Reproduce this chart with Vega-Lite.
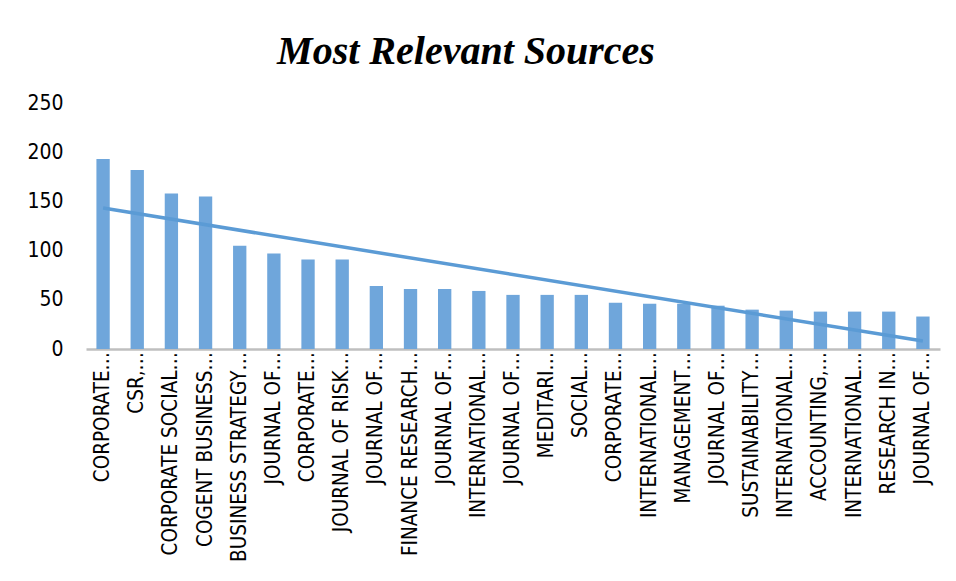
{
  "$schema": "https://vega.github.io/schema/vega-lite/v6.json",
  "autosize": {"type": "none"},
  "padding": {"left": 86, "top": 103, "right": 16, "bottom": 232},
  "width": 854,
  "height": 246,
  "background": "white",
  "config": {"view": {"stroke": null}},
  "title": {
    "text": "Most Relevant Sources",
    "font": "Liberation Serif",
    "fontSize": 40,
    "fontStyle": "italic",
    "fontWeight": "bold",
    "color": "#000000",
    "anchor": "middle",
    "baseline": "alphabetic",
    "dx": -47,
    "dy": 42,
    "offset": 30
  },
  "data": {
    "values": [
      {"rank": 1, "label": "CORPORATE…", "articles": 193},
      {"rank": 2, "label": "CSR,…", "articles": 182},
      {"rank": 3, "label": "CORPORATE SOCIAL…", "articles": 158},
      {"rank": 4, "label": "COGENT BUSINESS…", "articles": 155},
      {"rank": 5, "label": "BUSINESS STRATEGY…", "articles": 105},
      {"rank": 6, "label": "JOURNAL OF…", "articles": 97},
      {"rank": 7, "label": "CORPORATE…", "articles": 91},
      {"rank": 8, "label": "JOURNAL OF RISK…", "articles": 91},
      {"rank": 9, "label": "JOURNAL OF…", "articles": 64},
      {"rank": 10, "label": "FINANCE RESEARCH…", "articles": 61},
      {"rank": 11, "label": "JOURNAL OF…", "articles": 61},
      {"rank": 12, "label": "INTERNATIONAL…", "articles": 59},
      {"rank": 13, "label": "JOURNAL OF…", "articles": 55},
      {"rank": 14, "label": "MEDITARI…", "articles": 55},
      {"rank": 15, "label": "SOCIAL…", "articles": 55},
      {"rank": 16, "label": "CORPORATE…", "articles": 47},
      {"rank": 17, "label": "INTERNATIONAL…", "articles": 46},
      {"rank": 18, "label": "MANAGEMENT…", "articles": 46},
      {"rank": 19, "label": "JOURNAL OF…", "articles": 44},
      {"rank": 20, "label": "SUSTAINABILITY…", "articles": 40},
      {"rank": 21, "label": "INTERNATIONAL…", "articles": 39},
      {"rank": 22, "label": "ACCOUNTING,…", "articles": 38},
      {"rank": 23, "label": "INTERNATIONAL…", "articles": 38},
      {"rank": 24, "label": "RESEARCH IN…", "articles": 38},
      {"rank": 25, "label": "JOURNAL OF…", "articles": 33}
    ]
  },
  "layer": [
    {
      "encoding": {
        "x": {
          "field": "rank",
          "type": "ordinal",
          "scale": {"paddingInner": 0.61, "paddingOuter": 0.305},
          "axis": {
            "labels": false,
            "ticks": false,
            "domain": true,
            "domainColor": "#BFBFBF",
            "domainWidth": 2.5,
            "title": null,
            "grid": false
          }
        },
        "y": {
          "field": "articles",
          "type": "quantitative",
          "scale": {"domain": [0, 250], "nice": false},
          "axis": {
            "values": [0, 50, 100, 150, 200, 250],
            "grid": false,
            "domain": false,
            "ticks": false,
            "labelFont": "DejaVu Sans Condensed",
            "labelFontSize": 21,
            "labelColor": "#000000",
            "labelPadding": 23,
            "title": null
          }
        }
      },
      "layer": [
        {"mark": {"type": "bar", "color": "#6FA6DB"}},
        {
          "mark": {
            "type": "text",
            "angle": 270,
            "align": "right",
            "baseline": "middle",
            "dx": -3,
            "font": "DejaVu Sans Condensed",
            "fontSize": 20.5,
            "color": "#000000"
          },
          "encoding": {
            "y": {"datum": 0, "type": "quantitative"},
            "text": {"field": "label", "type": "nominal"}
          }
        }
      ]
    },
    {
      "transform": [{"regression": "articles", "on": "rank"}],
      "mark": {"type": "line", "color": "#5B9BD5", "strokeWidth": 3.5},
      "encoding": {
        "x": {
          "field": "rank",
          "type": "quantitative",
          "scale": {"domain": [0.5, 25.5], "nice": false, "zero": false},
          "axis": null
        },
        "y": {"field": "articles", "type": "quantitative"}
      }
    }
  ],
  "resolve": {"scale": {"x": "independent"}}
}
